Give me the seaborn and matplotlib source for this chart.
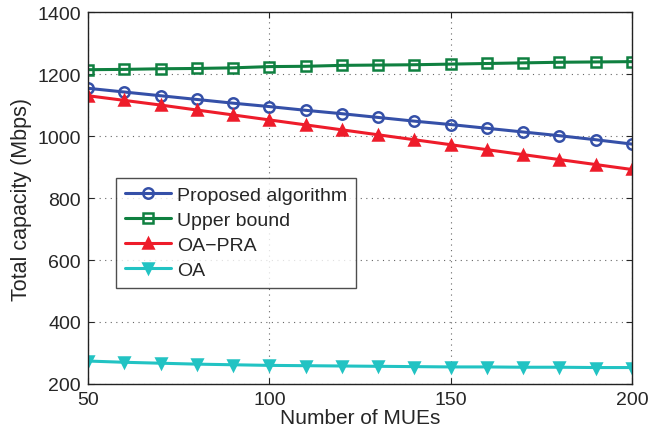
import numpy as np
import pandas as pd
import matplotlib
matplotlib.use('Agg')
import matplotlib.pyplot as plt
import seaborn as sns

## chart data
num_mues = [50, 60, 70, 80, 90, 100, 110, 120, 130, 140, 150, 160, 170, 180, 190, 200]
proposed = [1154, 1142, 1130, 1118, 1106, 1095, 1083, 1072, 1060, 1048, 1037, 1025, 1013, 1001, 988, 974]
upper_bound = [1214, 1215, 1217, 1218, 1220, 1224, 1225, 1228, 1229, 1230, 1232, 1234, 1236, 1238, 1239, 1240]
oa_pra = [1130, 1115, 1100, 1084, 1068, 1052, 1036, 1020, 1004, 988, 972, 956, 940, 924, 908, 892]
oa = [274, 270, 267, 264, 262, 260, 259, 258, 257, 256, 255, 255, 254, 254, 253, 253]

series_names = ['Proposed algorithm', 'Upper bound', 'OA\u2212PRA', 'OA']
series_values = [proposed, upper_bound, oa_pra, oa]
colors = ['#3550A8', '#0F8040', '#EE1C2A', '#22C3C3']
markers = ['o', 's', '^', 'v']
hollow = [True, True, False, False]

sns.set_style('ticks')
plt.rcParams['font.family'] = ['Liberation Sans', 'DejaVu Sans']

fig = plt.figure(figsize=(6.48, 4.35), dpi=100)
ax = fig.add_axes([0.1358, 0.115, 0.8395, 0.855])

for name, vals, c, m, h in zip(series_names, series_values, colors, markers, hollow):
    df = pd.DataFrame({'x': num_mues, 'y': vals})
    sns.lineplot(data=df, x='x', y='y', ax=ax, marker=m, color=c, linewidth=2.2,
                 markersize=7.5 if m != 's' else 6.5, markeredgewidth=1.8,
                 markeredgecolor=c, markerfacecolor='none' if h else c, label=name)

ax.set_xlim(50, 200)
ax.set_ylim(200, 1400)
ax.set_xticks([50, 100, 150, 200])
ax.set_yticks([200, 400, 600, 800, 1000, 1200, 1400])
ax.grid(True, linestyle=(0, (1, 4)), color='#666666', linewidth=0.8)
ax.tick_params(direction='in', labelsize=14, length=4, top=True, right=True, pad=5)
for s in ax.spines.values():
    s.set_linewidth(1.0)
    s.set_color('#222222')
ax.set_xlabel('Number of MUEs', fontsize=15, labelpad=0)
ax.set_ylabel('Total capacity (Mbps)', fontsize=15.5, labelpad=4)

leg = ax.legend(loc='upper left', bbox_to_anchor=(0.0515, 0.554), fontsize=14,
                frameon=True, fancybox=False, handlelength=2.4, borderpad=0.45,
                labelspacing=0.38, handletextpad=0.3, borderaxespad=0)
leg.get_frame().set_edgecolor('#222222')
leg.get_frame().set_linewidth(1.0)

fig.savefig('out.png', dpi=100)
